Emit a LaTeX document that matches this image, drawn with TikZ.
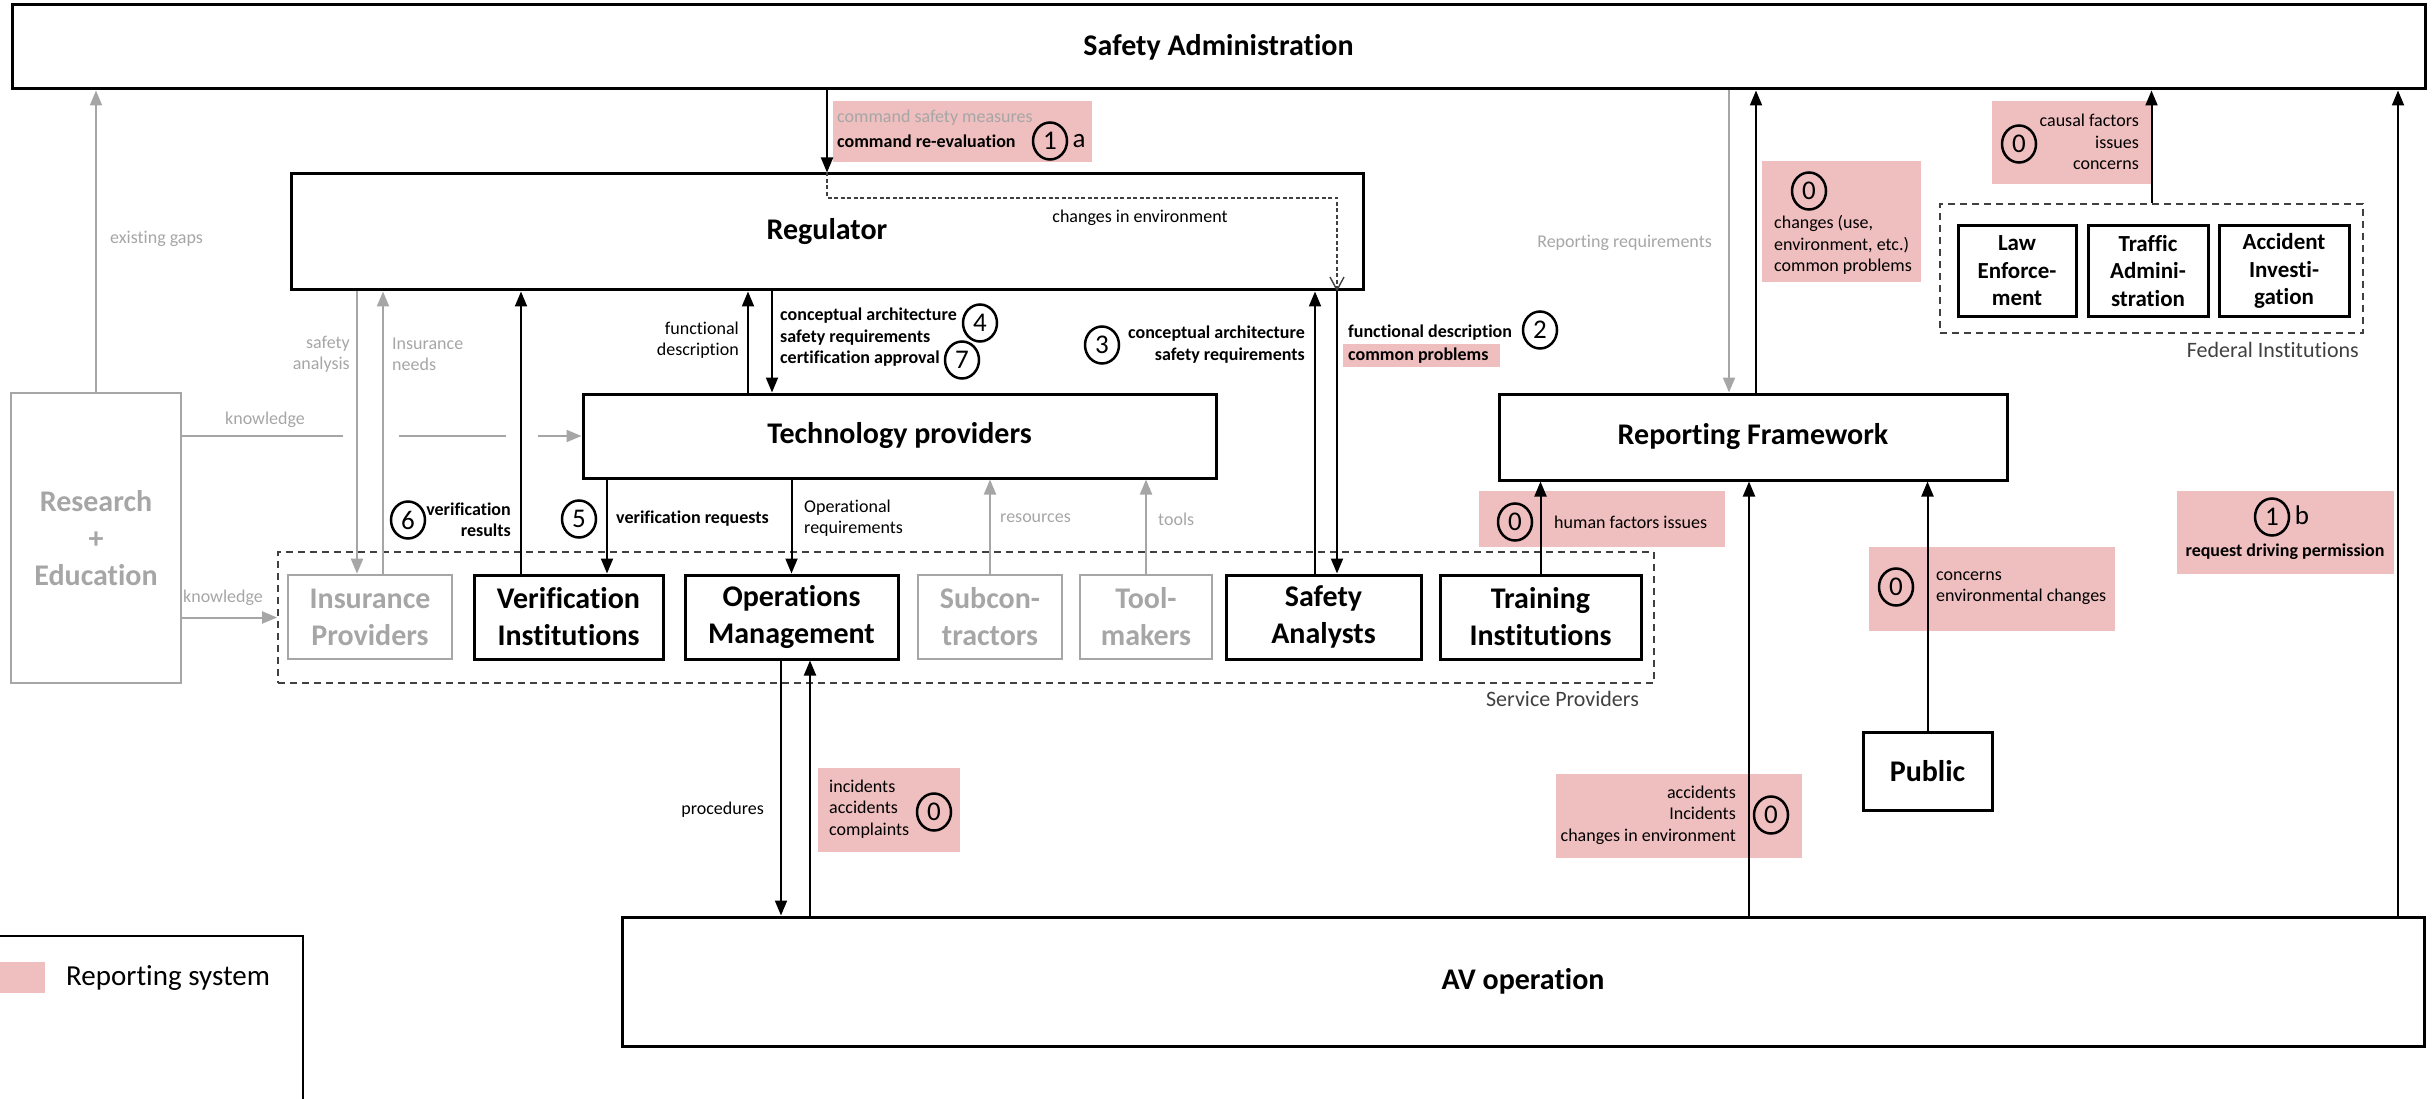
\documentclass[tikz,border=0pt]{standalone}
\usepackage{fontspec}
\setmainfont{Carlito}[Ligatures={NoCommon}]
\usetikzlibrary{arrows.meta,shapes.geometric}
\definecolor{rep}{RGB}{239,190,191}
\definecolor{lgray}{RGB}{166,166,166}
\definecolor{dgray}{RGB}{64,64,64}
\begin{document}
\begin{tikzpicture}[x=1pt,y=-1pt,
  ubox/.style={draw, line width=3pt, inner sep=0pt, align=center, font=\bfseries\fontsize{30}{37}\selectfont},
  gbox/.style={ubox, draw=lgray, text=lgray, line width=2.6pt},
  fbox/.style={ubox, font=\bfseries\fontsize{23}{27.5}\selectfont},
  dbox/.style={draw=dgray, line width=1.8pt, dash pattern=on 7pt off 5pt, inner sep=0pt},
  arr/.style={line width=2pt, -{Triangle[length=15pt,width=12pt]}},
  garr/.style={arr, draw=lgray},
  gline/.style={line width=2pt, draw=lgray},
  dpath/.style={line width=1.4pt, draw=dgray, dash pattern=on 4pt off 2.5pt, -{Straight Barb[length=13pt,width=14pt]}},
  lab/.style={inner sep=0pt, font=\fontsize{18}{21.5}\selectfont},
  blab/.style={lab, font=\bfseries\fontsize{18}{21.5}\selectfont},
  glab/.style={lab, text=lgray},
  grp/.style={inner sep=0pt, text=dgray, font=\fontsize{22}{26}\selectfont},
  cnum/.style={draw, ellipse, line width=2.5pt, minimum width=34pt, minimum height=37pt, inner sep=0pt, font=\fontsize{27}{27}\selectfont},
  suffix/.style={inner sep=0pt, font=\fontsize{27}{27}\selectfont},
  pinkbg/.style={fill=rep, inner sep=0pt}
]
\clip (0,0) rectangle (2433,1099);

% reporting-system highlights (drawn first, connectors pass over them)
\node[pinkbg, minimum width=259pt, minimum height=61pt] (p1a) at (962.5,131.5) {};
\node[pinkbg, minimum width=157pt, minimum height=23pt] (pcp) at (1421.5,355.5) {};
\node[pinkbg, minimum width=159pt, minimum height=121pt] (p0a) at (1841.5,221.5) {};
\node[pinkbg, minimum width=159pt, minimum height=83pt] (p0b) at (2071.5,142.5) {};
\node[pinkbg, minimum width=246pt, minimum height=56pt] (p0c) at (1602,519) {};
\node[pinkbg, minimum width=217pt, minimum height=83pt] (p1b) at (2285.5,532.5) {};
\node[pinkbg, minimum width=246pt, minimum height=84pt] (p0d) at (1992,589) {};
\node[pinkbg, minimum width=246pt, minimum height=84pt] (p0e) at (1679,816) {};
\node[pinkbg, minimum width=142pt, minimum height=84pt] (p0f) at (889,810) {};

% main actors
\node[ubox, minimum width=2413pt, minimum height=84pt] (sa) at (1218.5,47) {Safety Administration};
\node[ubox, minimum width=1072pt, minimum height=116pt] (reg) at (827,232) {Regulator};
\node[ubox, minimum width=633pt, minimum height=84pt] (tp) at (899.5,436) {Technology providers};
\node[ubox, minimum width=508pt, minimum height=86pt] (rf) at (1753,437) {Reporting Framework};
\node[gbox, minimum width=170pt, minimum height=290pt] (res) at (96,538) {Research\\+\\Education};
\node[ubox, minimum width=129pt, minimum height=78pt] (pub) at (1927.5,771) {Public};
\node[ubox, minimum width=1802pt, minimum height=129pt] (av) at (1523,981.5) {AV operation};

% service providers
\node[dbox, minimum width=1376pt, minimum height=131pt] (svc) at (966,617.5) {};
\node[gbox, minimum width=164pt, minimum height=84pt] (ip) at (370,617) {Insurance\\Providers};
\node[ubox, minimum width=189pt, minimum height=84pt] (vi) at (568.5,617) {Verification\\Institutions};
\node[ubox, minimum width=213pt, minimum height=84pt] (om) at (791.5,617) {Operations\\Management};
\node[gbox, minimum width=144pt, minimum height=84pt] (sub) at (990,617) {Subcon-\\tractors};
\node[gbox, minimum width=132pt, minimum height=84pt] (tool) at (1146,617) {Tool-\\makers};
\node[ubox, minimum width=195pt, minimum height=84pt] (saa) at (1323.5,617) {Safety\\Analysts};
\node[ubox, minimum width=201pt, minimum height=84pt] (ti) at (1540.5,617) {Training\\Institutions};
\node[grp, anchor=east] (svcl) at (1639,699) {Service Providers};

% federal institutions
\node[dbox, minimum width=423pt, minimum height=129pt] (fed) at (2151.5,268.5) {};
\node[fbox, minimum width=118pt, minimum height=90pt] (law) at (2017,271) {Law\\Enforce-\\ment};
\node[fbox, minimum width=120pt, minimum height=90pt] (tra) at (2148,271) {Traffic\\Admini-\\stration};
\node[fbox, minimum width=130pt, minimum height=90pt] (acc) at (2284,271) {Accident\\Investi-\\gation};
\node[grp, anchor=east] (fedl) at (2359,350) {Federal Institutions};

% legend
\draw[line width=2pt] (-5,936) -- (303,936) -- (303,1110);
\node[pinkbg, minimum width=45pt, minimum height=31pt] (legsq) at (22.5,977.5) {};
\node[inner sep=0pt, anchor=west, font=\fontsize{29}{34}\selectfont] (legt) at (66,978) {Reporting system};

% connectors
\draw[garr] (res.north) -- (res.north |- sa.south);
\draw[garr] (357,0 |- reg.south) -- (357,0 |- ip.north);
\draw[garr] (383,0 |- ip.north) -- (383,0 |- reg.south);
\draw[arr] (521,0 |- vi.north) -- (521,0 |- reg.south);
\draw[arr] (607,0 |- tp.south) -- (607,0 |- vi.north);
\draw[arr] (748,0 |- tp.north) -- (748,0 |- reg.south);
\draw[arr] (772,0 |- reg.south) -- (772,0 |- tp.north);
\draw[arr] (om.north |- tp.south) -- (om.north);
\draw[garr] (sub.north) -- (sub.north |- tp.south);
\draw[garr] (tool.north) -- (tool.north |- tp.south);
\draw[arr] (1315,0 |- saa.north) -- (1315,0 |- reg.south);
\draw[arr] (1337,0 |- reg.south) -- (1337,0 |- saa.north);
\draw[arr] (reg.north |- sa.south) -- (reg.north);
\draw[dpath] (reg.north) -- (827,198) -- (1337,198) -- (1337,0 |- reg.south);
\draw[arr] (ti.north) -- (ti.north |- rf.south);
\draw[garr] (1729,0 |- sa.south) -- (1729,0 |- rf.north);
\draw[arr] (1756,0 |- rf.north) -- (1756,0 |- sa.south);
\draw[arr] (1749,0 |- av.north) -- (1749,0 |- rf.south);
\draw[arr] (pub.north) -- (pub.north |- rf.south);
\draw[arr] (fed.north) -- (fed.north |- sa.south);
\draw[arr] (2398,0 |- av.north) -- (2398,0 |- sa.south);
\draw[arr] (781,0 |- om.south) -- (781,0 |- av.north);
\draw[arr] (810,0 |- av.north) -- (810,0 |- om.south);
\draw[gline] (res.east |- tp.west) -- (343,0 |- tp.west);
\draw[gline] (399,0 |- tp.west) -- (506,0 |- tp.west);
\draw[garr] (538,0 |- tp.west) -- (tp.west);
\draw[garr] (res.east |- svc.west) -- (svc.west);

% connector labels
\node[glab, anchor=west] (lgaps) at (110,239) {existing gaps};
\node[glab] (lkn1) at (265,420) {knowledge};
\node[glab] (lkn2) at (223,598) {knowledge};
\node[glab, anchor=east, align=right] (lsan) at (350,354.5) {safety\\analysis};
\node[glab, anchor=west, align=left] (lins) at (392,354.5) {Insurance\\needs};
\node[lab, anchor=east, align=right] (lfd) at (739,340) {functional\\description};
\node[blab, anchor=west, align=left] (lca) at (780,337.5) {conceptual architecture\\safety requirements\\certification approval};
\node[cnum] (c4) at (980,323) {4};
\node[cnum] (c7) at (962,360) {7};
\node[cnum] (c3) at (1102,345) {3};
\node[blab, anchor=east, align=right] (lca2) at (1305,344.5) {conceptual architecture\\safety requirements};
\node[blab, anchor=west] (lfd2) at (1348,333) {functional description};
\node[blab, anchor=west] (lcp) at (1348,356) {common problems};
\node[cnum] (c2) at (1540,330) {2};
\node[cnum] (c6) at (408,520) {6};
\node[blab, anchor=east, align=right] (lvr) at (511,519.5) {verification\\results};
\node[cnum] (c5) at (579,519) {5};
\node[blab, anchor=west] (lvq) at (616,519) {verification requests};
\node[lab, anchor=west, align=left] (lop) at (804,518) {Operational\\requirements};
\node[glab, anchor=west] (lres) at (1000,518) {resources};
\node[glab, anchor=west] (ltools) at (1158,519) {tools};
\node[lab] (lenv) at (1140,218) {changes in environment};
\node[glab, anchor=east] (lrr) at (1712,243) {Reporting requirements};
\node[lab, anchor=east] (lproc) at (764,810) {procedures};

% reporting-system texts
\node[glab, anchor=west] (lcsm) at (837,118) {command safety measures};
\node[blab, anchor=west] (lcre) at (837,141) {command re-evaluation};
\node[cnum] (c1a) at (1050,141) {1};
\node[suffix] (sa1) at (1079,141) {a};
\node[cnum] (c0a) at (1809,191) {0};
\node[lab, anchor=west, align=left] (l0a) at (1774,245) {changes (use,\\environment, etc.)\\common problems};
\node[cnum] (c0b) at (2019,144) {0};
\node[lab, anchor=east, align=right] (l0b) at (2139,142) {causal factors\\issues\\concerns};
\node[cnum] (c0c) at (1515,522) {0};
\node[lab, anchor=west] (l0c) at (1554,522) {human factors issues};
\node[cnum] (c1b) at (2272,517) {1};
\node[suffix] (sb1) at (2302,515) {b};
\node[blab] (l1b) at (2285,552) {request driving permission};
\node[cnum] (c0d) at (1896,587) {0};
\node[lab, anchor=west, align=left] (l0d) at (1936,588) {concerns\\environmental changes};
\node[cnum] (c0e) at (1771,815) {0};
\node[lab, anchor=east, align=right] (l0e) at (1736,815) {accidents\\Incidents\\changes in environment};
\node[cnum] (c0f) at (934,812) {0};
\node[lab, anchor=west, align=left] (l0f) at (829,809) {incidents\\accidents\\complaints};
\end{tikzpicture}
\end{document}
